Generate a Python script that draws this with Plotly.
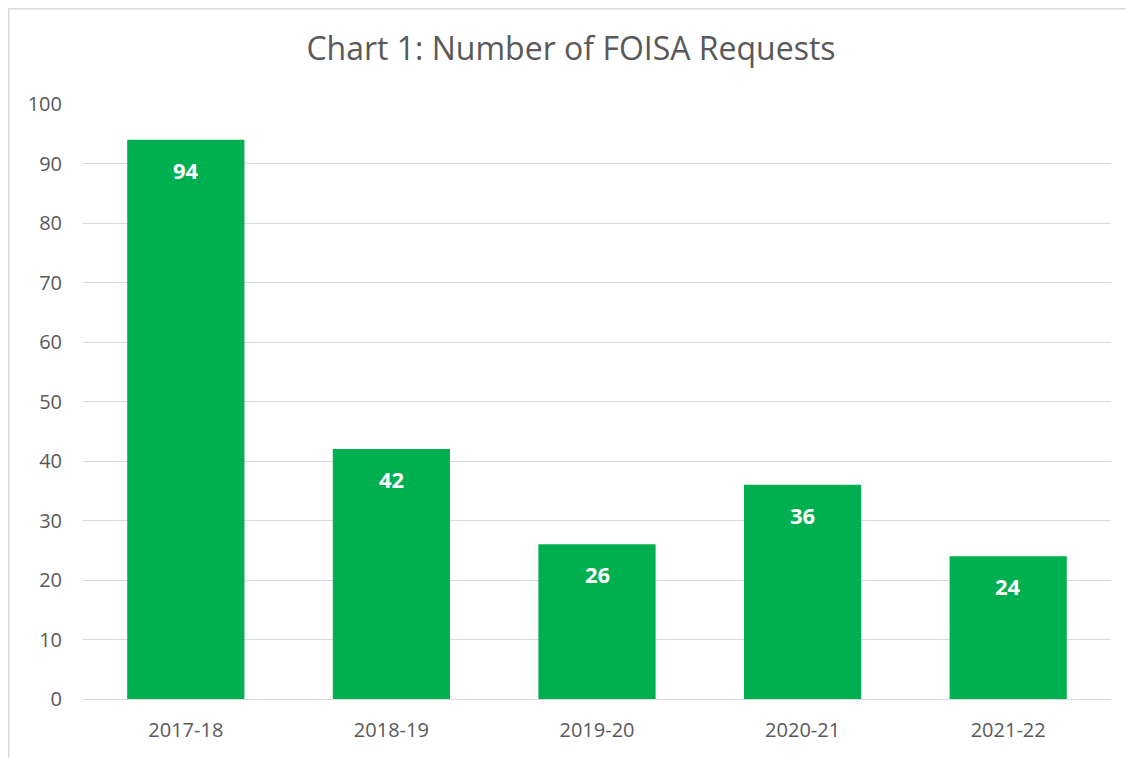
import plotly.graph_objects as go

categories = ["2017-18", "2018-19", "2019-20", "2020-21", "2021-22"]
requests = [94, 42, 26, 36, 24]
y_ticks = list(range(0, 101, 10))

# page has an 8px body margin, so the figure is sized/shifted to compensate
W, H = 1126, 750
ml, mr, mt, mb = 75, 23, 96, 59
pw, ph = W - ml - mr, H - mt - mb

def px_to_paper_x(px):
    return (px - ml) / pw

def px_to_paper_y(py):
    return (H - mb - py) / ph

fig = go.Figure(go.Bar(
    x=categories, y=requests,
    marker=dict(color="#00B050", line=dict(width=0)),
    width=0.57,
    hoverinfo="x+y",
))

for c, v in zip(categories, requests):
    fig.add_annotation(x=c, y=v, text=f"<b>{v}</b>", showarrow=False,
                       yanchor="middle", yshift=-30,
                       font=dict(family="Open Sans", size=22, color="white"))

fig.update_layout(
    width=W, height=H,
    margin=dict(l=ml, r=mr, t=mt, b=mb),
    paper_bgcolor="white", plot_bgcolor="white",
    font=dict(family="Open Sans", color="#595959", size=20),
    title=dict(text="Chart 1: Number of FOISA Requests", x=0.5, xanchor="center",
               y=1 - 41 / H, yanchor="middle",
               font=dict(family="Open Sans", size=32, color="#595959")),
    showlegend=False,
    bargap=0.43,
)
fig.update_yaxes(range=[0, 100], tickvals=y_ticks, showgrid=True, gridcolor="#D9D9D9",
                 gridwidth=1.3, zeroline=False, showline=False, ticks="",
                 ticklabelstandoff=20, tickfont=dict(size=20, color="#595959"))
fig.update_xaxes(showline=True, linecolor="#D9D9D9", linewidth=1.3, ticks="",
                 ticklabelstandoff=13, tickfont=dict(size=20, color="#595959"))

fig.add_shape(type="rect", xref="paper", yref="paper",
              x0=px_to_paper_x(0.75), x1=px_to_paper_x(W + 20), y0=px_to_paper_y(H + 20), y1=px_to_paper_y(0.75),
              line=dict(color="#D9D9D9", width=1.5), fillcolor="rgba(0,0,0,0)", layer="below")

fig.write_html("out.html")
